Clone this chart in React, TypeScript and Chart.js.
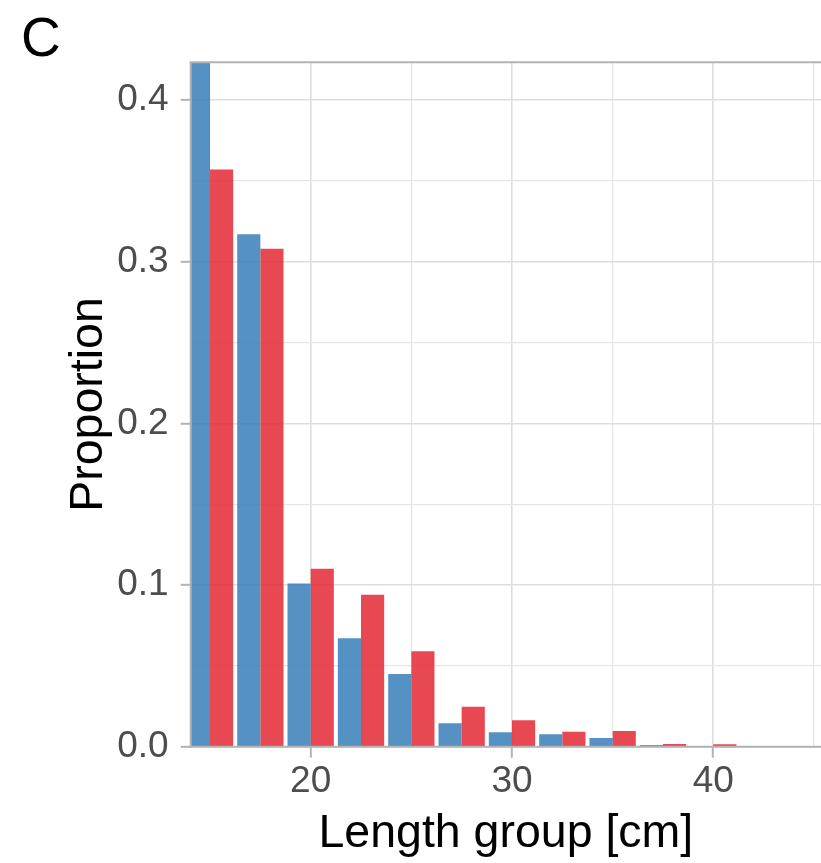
import React, { useEffect, useRef } from "react";
import { Chart, registerables } from "chart.js";

Chart.register(...registerables);

const lengthGroups = [15, 17.5, 20, 22.5, 25, 27.5, 30, 32.5, 35, 37.5, 40];
const blueValues = [0.43, 0.317, 0.101, 0.067, 0.045, 0.0145, 0.0089, 0.0077, 0.0054, 0.001, 0];
const redValues = [0.357, 0.308, 0.110, 0.094, 0.059, 0.0247, 0.0163, 0.0093, 0.0097, 0.0017, 0.0015];
const xTickValues = [15, 20, 25, 30, 35, 40, 45];
const yTickValues = [0, 0.05, 0.1, 0.15, 0.2, 0.25, 0.3, 0.35, 0.4];
const panelLabel = "C";
const xTitle = "Length group [cm]";
const yTitle = "Proportion";

const FONT = "'Liberation Sans', Arial, Helvetica, sans-serif";
const AXIS_GREY = "#b3b3b3";

const isMajorX = (v: number) => Math.round(v) % 10 === 0;
const isMajorY = (v: number) => Math.round(v * 100) % 10 === 0;

const framePlugin = {
  id: "frame",
  afterDatasetsDraw(chart: any) {
    const { ctx, chartArea } = chart;
    ctx.save();
    ctx.strokeStyle = AXIS_GREY;
    ctx.lineWidth = 2;
    ctx.beginPath();
    ctx.moveTo(chartArea.left, chartArea.top);
    ctx.lineTo(chartArea.right + 2, chartArea.top);
    ctx.moveTo(chartArea.left, chartArea.top - 1);
    ctx.lineTo(chartArea.left, chartArea.bottom + 1);
    ctx.moveTo(chartArea.left - 1, chartArea.bottom);
    ctx.lineTo(chartArea.right + 2, chartArea.bottom);
    ctx.stroke();
    ctx.restore();
  },
  afterDraw(chart: any) {
    const { ctx } = chart;
    ctx.save();
    ctx.fillStyle = "#000000";
    ctx.font = `55px ${FONT}`;
    ctx.textBaseline = "alphabetic";
    ctx.textAlign = "left";
    ctx.fillText(panelLabel, 21, 56);
    ctx.restore();
  },
};

export default function App() {
  const canvasRef = useRef<HTMLCanvasElement | null>(null);

  useEffect(() => {
    if (!canvasRef.current) return;
    const chart = new Chart(canvasRef.current, {
      type: "bar",
      data: {
        datasets: [
          {
            label: "A",
            data: lengthGroups.map((x, i) => ({ x, y: blueValues[i] })),
            backgroundColor: "rgba(55,126,184,0.85)",
            borderWidth: 0,
            clip: 0,
          },
          {
            label: "B",
            data: lengthGroups.map((x, i) => ({ x, y: redValues[i] })),
            backgroundColor: "rgba(228,40,52,0.85)",
            borderWidth: 0,
            clip: 0,
          },
        ],
      },
      options: {
        animation: false,
        responsive: false,
        maintainAspectRatio: false,
        events: [],
        layout: { padding: { top: 62.3, left: 0, right: 0, bottom: 0 } },
        datasets: {
          bar: { barPercentage: 1, categoryPercentage: 0.92 },
        },
        plugins: {
          legend: { display: false },
          tooltip: { enabled: false },
          title: { display: false },
        },
        scales: {
          x: {
            type: "linear",
            min: 14.04,
            max: 45.35,
            offset: false,
            afterBuildTicks: (scale: any) => {
              scale.ticks = xTickValues.map((v) => ({ value: v }));
            },
            afterFit: (scale: any) => {
              scale.height = 116.3;
            },
            ticks: {
              autoSkip: false,
              maxRotation: 0,
              padding: 2,
              color: "#4d4d4d",
              font: { family: FONT, size: 37 },
              callback: (v: any) => (isMajorX(Number(v)) ? String(v) : ""),
            },
            grid: {
              offset: false,
              drawTicks: true,
              tickLength: 11,
              color: (c: any) => (isMajorX(c.tick?.value ?? 0) ? "#dedede" : "#e6e6e6"),
              lineWidth: (c: any) => (isMajorX(c.tick?.value ?? 0) ? 1.6 : 1.2),
              tickColor: (c: any) => (isMajorX(c.tick?.value ?? 0) ? AXIS_GREY : "rgba(0,0,0,0)"),
              tickWidth: 2,
            },
            border: { display: false },
            title: {
              display: true,
              text: xTitle,
              color: "#000000",
              font: { family: FONT, size: 46.5 },
              padding: { top: 0, bottom: 1.4 },
            },
          },
          y: {
            type: "linear",
            min: 0,
            max: 0.4233,
            afterBuildTicks: (scale: any) => {
              scale.ticks = yTickValues.map((v) => ({ value: v }));
            },
            afterFit: (scale: any) => {
              scale.width = 190.7;
            },
            ticks: {
              autoSkip: false,
              padding: 12,
              color: "#4d4d4d",
              font: { family: FONT, size: 37 },
              callback: (v: any) => (isMajorY(Number(v)) ? Number(v).toFixed(1) : ""),
            },
            grid: {
              offset: false,
              drawTicks: true,
              tickLength: 10,
              color: (c: any) => (isMajorY(c.tick?.value ?? 0) ? "#dedede" : "#e6e6e6"),
              lineWidth: (c: any) => (isMajorY(c.tick?.value ?? 0) ? 1.6 : 1.2),
              tickColor: (c: any) => (isMajorY(c.tick?.value ?? 0) ? AXIS_GREY : "rgba(0,0,0,0)"),
              tickWidth: 2,
            },
            border: { display: false },
            title: {
              display: true,
              text: yTitle,
              color: "#000000",
              font: { family: FONT, size: 46.5 },
              padding: { top: 61.4, bottom: 0 },
            },
          },
        },
      },
      plugins: [framePlugin],
    });
    return () => chart.destroy();
  }, []);

  return (
    <div style={{ position: "fixed", left: 0, top: 0, width: 821, height: 863, background: "#ffffff" }}>
      <canvas ref={canvasRef} width={821} height={863} />
    </div>
  );
}
